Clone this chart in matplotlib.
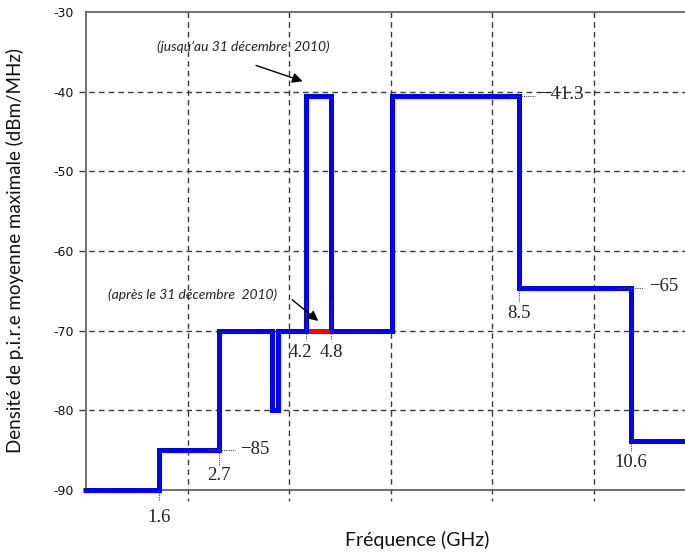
import matplotlib
matplotlib.use("Agg")
import matplotlib.pyplot as plt
import numpy as np

# schematic x positions (grid units, one dashed column = 1), y in dBm/MHz
edges = [-0.03, 0.72, 1.31, 1.83, 1.89, 2.17, 2.41, 3.01, 4.27, 5.37, 5.9]
levels = [-90, -85, -70, -80, -70, -40.6, -70, -40.6, -64.6, -83.8]
red_span = [2.17, 2.41]
red_level = -70

yticks = [-30, -40, -50, -60, -70, -80, -90]
grid_y = [-40, -50, -60, -70, -80]
grid_x = [1, 2, 3, 4, 5]

# numeric annotations: (text, x, y)
freq_labels = [("1.6", 0.72, -93.4), ("2.7", 1.31, -88.2), ("4.2", 2.11, -72.7),
               ("4.8", 2.42, -72.7), ("8.5", 4.27, -67.8), ("10.6", 5.37, -86.6)]
level_labels = [("\u221285", 1.52, -84.9), ("\u221241.3", 4.47, -40.4),
                ("\u221265", 5.55, -64.5)]
# dotted leader lines: x pairs, y pairs
leaders = [([0.72, 0.72], [-90, -91.3]),
           ([1.20, 1.47], [-85, -85]),
           ([1.31, 1.31], [-84.5, -86.8]),
           ([2.17, 2.17], [-66.1, -71.2]),
           ([2.41, 2.41], [-66.1, -71.2]),
           ([4.18, 4.42], [-40.6, -40.6]),
           ([4.27, 4.27], [-64.6, -66.4]),
           ([5.23, 5.49], [-64.6, -64.6]),
           ([5.37, 5.37], [-83.8, -85.2])]

fig = plt.figure(figsize=(6.85, 5.55), dpi=100)
ax = fig.add_axes([86 / 685, 1 - 490 / 555, 609 / 685, 478 / 555])
ax.set_xlim(0, 6)
ax.set_ylim(-90, -30)

gcol = "#3a3a3a"
for gy in grid_y:
    ax.plot([-0.07, 6], [gy, gy], color=gcol, lw=1, ls=(0, (4, 3)),
            clip_on=False, zorder=1)
for gx in grid_x:
    ax.plot([gx, gx], [-30, -91.4], color=gcol, lw=1, ls=(0, (4, 3)),
            clip_on=False, zorder=1)

ax.plot(red_span, [red_level, red_level], color="#ff0000", lw=3.6,
        solid_capstyle="butt", zorder=3)
ax.stairs(levels, edges, baseline=None, color="#0000ff", lw=3.6,
          zorder=4, clip_on=False)

for xs, ys in leaders:
    ax.plot(xs, ys, color="#444444", lw=0.8, ls=(0, (1, 1)),
            clip_on=False, zorder=5)

serif = "Liberation Serif"
for t, x, y in freq_labels:
    ax.text(x, y, t, ha="center", va="center", fontsize=13.5,
            family=serif, color="#222222", clip_on=False)
for t, x, y in level_labels:
    ax.text(x, y, t, ha="left", va="center", fontsize=13.5,
            family=serif, color="#222222", clip_on=False)

ax.text(1.55, -34.4, "(jusqu\u2019au 31 d\u00e9cembre  2010)", ha="center",
        va="center", fontsize=10, style="italic", family="Lato",
        color="#222222")
ax.annotate("", xy=(2.16, -38.8), xytext=(1.65, -36.6),
            arrowprops=dict(arrowstyle="-|>", color="black", lw=1,
                            mutation_scale=15))
ax.text(1.05, -65.5, "(apr\u00e8s le 31 d\u00e9cembre  2010)", ha="center",
        va="center", fontsize=10, style="italic", family="Lato",
        color="#222222")
ax.annotate("", xy=(2.31, -69.0), xytext=(2.01, -65.9),
            arrowprops=dict(arrowstyle="-|>", color="black", lw=1,
                            mutation_scale=15), zorder=6)

ax.set_xticks([])
ax.set_yticks(yticks)
ax.set_yticklabels([str(v) for v in yticks], fontsize=9,
                   family="DejaVu Sans", color="#111111")
ax.tick_params(axis="y", length=0, pad=9)
for s in ["left", "top", "bottom"]:
    ax.spines[s].set_color("#666666")
    ax.spines[s].set_linewidth(1.3)
ax.spines["right"].set_visible(False)

fig.text(15 / 685, 1 - 250 / 555,
         "Densit\u00e9 de p.i.r.e moyenne maximale (dBm/MHz)",
         rotation=90, ha="center", va="center", fontsize=13.5, family="Lato",
         color="#111111")
fig.text(417 / 685, 1 - 540 / 555, "Fr\u00e9quence (GHz)", ha="center",
         va="center", fontsize=14, family="Lato", color="#111111")

fig.savefig("out.png", dpi=100)
